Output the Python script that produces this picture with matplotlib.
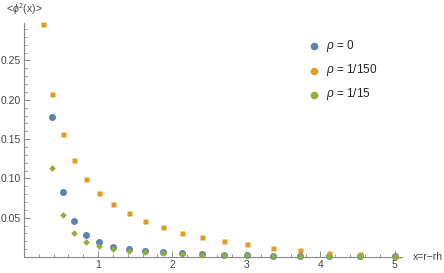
import matplotlib
matplotlib.use("Agg")
import matplotlib.pyplot as plt
from matplotlib.ticker import MultipleLocator

plt.rcParams['font.family'] = ['Liberation Sans', 'DejaVu Sans']
plt.rcParams['mathtext.fontset'] = 'custom'
plt.rcParams['mathtext.rm'] = 'Liberation Sans'
plt.rcParams['mathtext.it'] = 'Liberation Sans:italic'

x = [0.25, 0.375, 0.52, 0.68, 0.84, 1.01, 1.2, 1.41, 1.63, 1.87, 2.13, 2.40,
     2.70, 3.01, 3.36, 3.72, 4.12, 4.54, 5.0]
rho_0 = [0.178, 0.083, 0.0458, 0.0284, 0.0187, 0.0131, 0.0098, 0.0075, 0.0064,
         0.0047, 0.0035, 0.0028, 0.0023, 0.0019, 0.0015, 0.0012, 0.0010, 0.0008]
rho_150 = [0.296, 0.208, 0.157, 0.124, 0.0996, 0.081, 0.067, 0.0555, 0.0458,
           0.038, 0.031, 0.025, 0.020, 0.016, 0.0118, 0.009, 0.0055, 0.0034, 0.0017]
rho_15 = [0.113, 0.054, 0.0305, 0.0195, 0.0136, 0.0102, 0.008, 0.0058, 0.0048,
          0.0038, 0.003, 0.0024, 0.002, 0.0016, 0.0013, 0.001, 0.0008, 0.0006]
labels = [r"$\rho$ = 0", r"$\rho$ = 1/150", r"$\rho$ = 1/15"]
yticks = [0.05, 0.10, 0.15, 0.20, 0.25]
xticks = [1, 2, 3, 4, 5]

c_blue = '#5E81B5'
c_orange = '#E19C24'
c_green = '#8FB032'

fig = plt.figure(figsize=(4.44, 2.73), dpi=100)
ax = fig.add_axes([24/444, 16/273, 378/444, 234/273])

ax.plot(x[1:], rho_0, 'o', color=c_blue, ms=5.0, mec='none', clip_on=False, zorder=3)
ax.plot(x, rho_150, 's', color=c_orange, ms=3.6, mec='none', clip_on=False, zorder=3)
ax.plot(x[1:], rho_15, 'D', color=c_green, ms=3.4, mec='none', clip_on=False, zorder=4)

ax.set_xlim(0, 5.1)
ax.set_ylim(0, 0.2977)
for s in ['top', 'right']:
    ax.spines[s].set_visible(False)
for s in ['left', 'bottom']:
    ax.spines[s].set_color('#888888')
    ax.spines[s].set_linewidth(0.8)

ax.set_xticks(xticks)
ax.set_xticklabels([str(t) for t in xticks])
ax.set_yticks(yticks)
ax.set_yticklabels(['%.2f' % t for t in yticks])
ax.xaxis.set_minor_locator(MultipleLocator(0.2))
ax.yaxis.set_minor_locator(MultipleLocator(0.01))
ax.tick_params(which='major', direction='in', length=4, width=0.7, color='#888888',
               labelsize=7.5, labelcolor='#444444', pad=2)
ax.tick_params(which='minor', direction='in', length=2.2, width=0.6, color='#888888')

ax.text(5.24, 0, 'x=r\u2212rh', fontsize=7.5, color='#444444', ha='left', va='center',
        transform=ax.transData, clip_on=False)
ax.text(-0.24, 0.305, r'<$\phi^2$(x)>', fontsize=7.5, color='#444444', ha='left',
        va='bottom', transform=ax.transData, clip_on=False)

# legend
leg_x = [314/444, 326/444]
leg_y = [1 - 46/273, 1 - 70.5/273, 1 - 94.5/273]
for c, lab, yy in zip([c_blue, c_orange, c_green], labels, leg_y):
    fig.lines.append(plt.Line2D([leg_x[0]], [yy], marker='o', color=c, ms=5.5, mec='none',
                                ls='none', transform=fig.transFigure))
    fig.text(leg_x[1], yy, lab, fontsize=8.5, color='#222222', ha='left', va='center')

fig.savefig('out.png', dpi=100)
